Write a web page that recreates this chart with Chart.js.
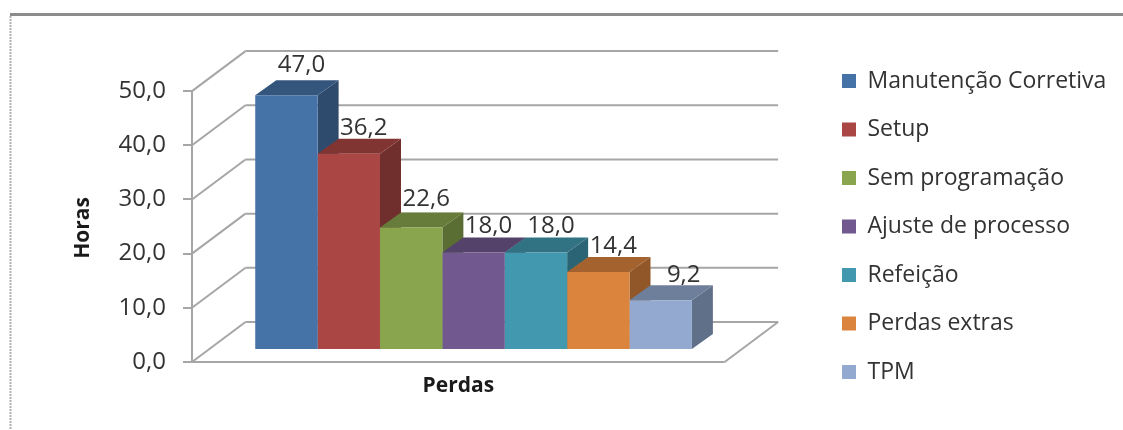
<!DOCTYPE html>
<html>
<head>
<meta charset="utf-8">
<style>
  html, body { margin: 0; padding: 0; background: #fff; }
  #wrap { width: 1123px; height: 430px; }
</style>
<script src="https://cdn.jsdelivr.net/npm/chart.js@4/dist/chart.umd.js"></script>
</head>
<body>
<div id="wrap"><canvas id="chart" width="1123" height="430"></canvas></div>
<script>
const lossNames = ["Manutenção Corretiva", "Setup", "Sem programação", "Ajuste de processo", "Refeição", "Perdas extras", "TPM"];
const lossHours = [47.0, 36.2, 22.6, 18.0, 18.0, 14.4, 9.2];
const lossColors = ["#4572a7", "#aa4643", "#89a54e", "#71588f", "#4198af", "#db843d", "#93a9cf"];
const yTicks = [0, 10, 20, 30, 40, 50];
const xTitle = "Perdas";
const yTitle = "Horas";

const FONT = '"Open Sans", sans-serif';
const TEXT = "#333333";
const GRID = "#a6a6a6";
// wall depth and bar depth, in pixels
const WALL_DX = 53.5, WALL_DY = 40;
const BAR_DX = 21, BAR_DY = 15;
const BAR_SHIFT_X = -11.5, BAR_SHIFT_Y = -12;

function fmt(v) {
  return v.toFixed(1).replace(".", ",");
}

function shade(hex, k) {
  const n = parseInt(hex.slice(1), 16);
  const c = [n >> 16, (n >> 8) & 255, n & 255].map(v => Math.round(v * k));
  return `rgb(${c[0]},${c[1]},${c[2]})`;
}

function line(ctx, x1, y1, x2, y2) {
  ctx.beginPath();
  ctx.moveTo(x1, y1);
  ctx.lineTo(x2, y2);
  ctx.stroke();
}

function drawDepth(ctx, bar, color) {
  const l = bar.x - bar.width / 2, r = bar.x + bar.width / 2;

  ctx.fillStyle = shade(color, 0.66);
  ctx.beginPath();
  ctx.moveTo(r, bar.y);
  ctx.lineTo(r + BAR_DX, bar.y - BAR_DY);
  ctx.lineTo(r + BAR_DX, bar.base - BAR_DY);
  ctx.lineTo(r, bar.base);
  ctx.closePath();
  ctx.fill();

  ctx.fillStyle = shade(color, 0.75);
  ctx.beginPath();
  ctx.moveTo(l, bar.y);
  ctx.lineTo(l + BAR_DX, bar.y - BAR_DY);
  ctx.lineTo(r + BAR_DX, bar.y - BAR_DY);
  ctx.lineTo(r, bar.y);
  ctx.closePath();
  ctx.fill();
}

// walls, floor and bar depth go under the front faces
const walls = {
  id: "walls",
  beforeDatasetsDraw(chart) {
    const { ctx, chartArea, scales } = chart;
    const left = chartArea.left, right = chartArea.right;
    const y0 = scales.y.getPixelForValue(0);
    const yTop = scales.y.getPixelForValue(50);

    ctx.save();
    ctx.lineWidth = 2;
    ctx.strokeStyle = GRID;
    yTicks.forEach(v => {
      const y = scales.y.getPixelForValue(v);
      line(ctx, left, y, left + WALL_DX, y - WALL_DY);
      line(ctx, left + WALL_DX, y - WALL_DY, right, y - WALL_DY);
    });
    line(ctx, left, yTop, left, y0);
    line(ctx, left, y0, right - WALL_DX, y0);
    line(ctx, right - WALL_DX, y0, right, y0 - WALL_DY);

    // left to right, each top covers the side of the bar before it
    ctx.translate(BAR_SHIFT_X, BAR_SHIFT_Y);
    lossColors.forEach((color, i) => drawDepth(ctx, chart.getDatasetMeta(i).data[0], color));
    ctx.restore();
  },
  beforeDatasetDraw(chart) {
    chart.ctx.save();
    chart.ctx.translate(BAR_SHIFT_X, BAR_SHIFT_Y);
  },
  afterDatasetDraw(chart) {
    chart.ctx.restore();
  },
  afterDatasetsDraw(chart) {
    const { ctx, chartArea } = chart;
    const nudge = { 0: [0, -4], 2: [0, -2], 6: [8, 1] };

    ctx.save();
    ctx.fillStyle = TEXT;
    ctx.font = "24px " + FONT;
    ctx.textAlign = "center";
    ctx.textBaseline = "middle";
    lossHours.forEach((v, i) => {
      const bar = chart.getDatasetMeta(i).data[0];
      const n = nudge[i] || [0, 0];
      ctx.fillText(fmt(v), bar.x + BAR_SHIFT_X + 15 + n[0], bar.y + BAR_SHIFT_Y - 26 + n[1]);
    });

    // axis titles sit on the front plane, not the full area
    ctx.fillStyle = "#1a1a1a";
    ctx.font = "bold 21px " + FONT;
    ctx.fillText(xTitle, (chartArea.left + chartArea.right - WALL_DX) / 2, 386);
    ctx.translate(83, 228);
    ctx.rotate(-Math.PI / 2);
    ctx.fillText(yTitle, 0, 0);
    ctx.restore();
  }
};

const frame = {
  id: "frame",
  beforeDraw(chart) {
    const { ctx, width, height } = chart;
    ctx.save();
    ctx.strokeStyle = "#8c8c8c";
    ctx.lineWidth = 3;
    line(ctx, 10, 14.5, width, 14.5);
    ctx.strokeStyle = "#b0b0b0";
    ctx.lineWidth = 2;
    ctx.setLineDash([2, 1]);
    line(ctx, 10.5, 16, 10.5, height);
    ctx.restore();
  },
  // legend keeps its own column, higher up than the plot
  afterLayout(chart) {
    const legend = chart.legend;
    legend.left = 816.5;
    legend.right = legend.left + legend.width + 30;
    legend.top = 44;
    legend.bottom = legend.top + legend.height;
  }
};

new Chart(document.getElementById("chart"), {
  type: "bar",
  data: {
    labels: [xTitle],
    datasets: lossNames.map((name, i) => ({
      label: name,
      data: [lossHours[i]],
      backgroundColor: lossColors[i],
      borderWidth: 0
    }))
  },
  plugins: [frame, walls],
  options: {
    responsive: false,
    animation: false,
    datasets: { bar: { barPercentage: 1, categoryPercentage: 0.745 } },
    layout: { padding: { top: 51, right: 85.5, bottom: 0, left: 0 } },
    plugins: {
      tooltip: { enabled: false },
      legend: {
        position: "right",
        align: "start",
        onClick: null,
        labels: {
          boxWidth: 14,
          boxHeight: 14,
          padding: 25.5,
          color: TEXT,
          font: { family: FONT, size: 23 }
        }
      }
    },
    scales: {
      x: {
        ticks: { display: false },
        grid: { display: false },
        border: { display: false },
        afterFit(scale) { scale.height = 68; }
      },
      y: {
        min: 0,
        max: 57.4,
        afterBuildTicks(scale) { scale.ticks = yTicks.map(value => ({ value })); },
        afterFit(scale) { scale.width = 192; },
        border: { display: false },
        grid: { drawOnChartArea: false, color: GRID, lineWidth: 2, tickLength: 9 },
        ticks: {
          padding: 17,
          color: TEXT,
          font: { family: FONT, size: 24 },
          callback: v => fmt(v)
        }
      }
    }
  }
});
</script>
</body>
</html>
